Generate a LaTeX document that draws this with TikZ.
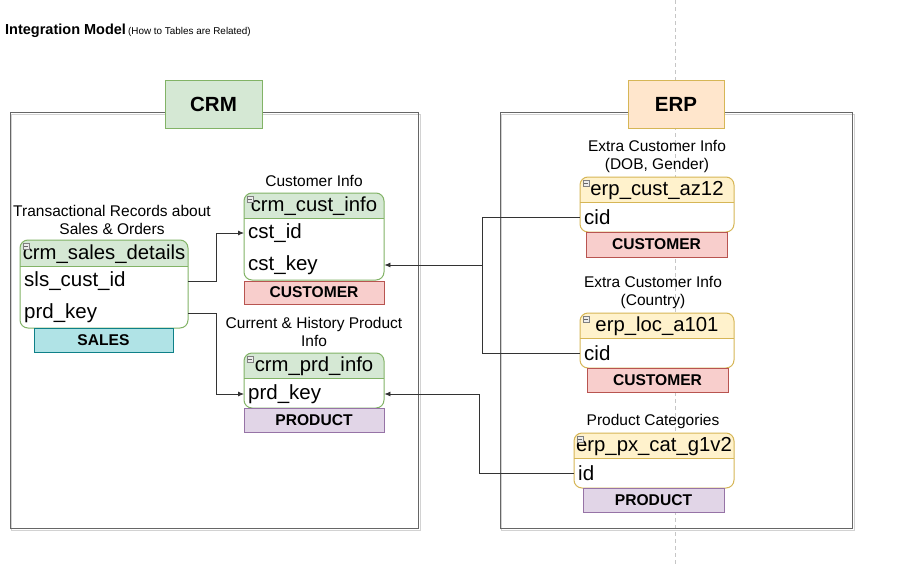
\documentclass[tikz,border=0pt]{standalone}
\usepackage{fontspec}
\setmainfont{Liberation Sans}
\usetikzlibrary{arrows.meta}
\definecolor{grnfill}{HTML}{D5E8D4}
\definecolor{grnline}{HTML}{82B366}
\definecolor{yelfill}{HTML}{FFF2CC}
\definecolor{yelline}{HTML}{D6B656}
\definecolor{orgfill}{HTML}{FFE6CC}
\definecolor{redfill}{HTML}{F8CECC}
\definecolor{redline}{HTML}{B85450}
\definecolor{purfill}{HTML}{E1D5E7}
\definecolor{purline}{HTML}{9673A6}
\definecolor{tealfill}{HTML}{B0E3E6}
\definecolor{tealline}{HTML}{0E8088}
\definecolor{edgecol}{HTML}{333333}
\definecolor{framecol}{HTML}{666666}
\tikzset{
  headtext/.style={inner sep=0pt, font=\fontsize{20.3}{22}\selectfont},
  rowtext/.style={inner xsep=4pt, inner ysep=0pt, align=left, anchor=west, font=\fontsize{20.5}{22}\selectfont},
  infolabel/.style={inner sep=0pt, align=center, font=\fontsize{15.5}{18}\selectfont},
  tagbox/.style={inner sep=0pt, font=\bfseries\fontsize{15.6}{18}\selectfont},
  tagred/.style={tagbox, fill=redfill, draw=redline},
  tagpur/.style={tagbox, fill=purfill, draw=purline},
  tagteal/.style={tagbox, fill=tealfill, draw=tealline},
  grouplabel/.style={inner sep=0pt, font=\bfseries\fontsize{20.5}{24}\selectfont, minimum height=48pt},
  frame/.style={draw=framecol, line width=1pt},
  conn/.style={draw=edgecol, line width=0.8pt, -{Latex[length=6pt,width=5pt]}},
  connplain/.style={draw=edgecol, line width=0.8pt},
  icon/.style={draw=gray, fill=gray!15, line width=0.5pt}
}
\newcommand\erdtab[9]{%
  \begin{scope}
    \clip[rounded corners=8pt] (#2,#3) rectangle (#4,#5);
    \fill[white] (#2,#3) rectangle (#4,#5);
    \fill[#7] (#2,#3) rectangle (#4,#6);
  \end{scope}
  \draw[#8, rounded corners=8pt, line width=1pt] (#2,#3) rectangle (#4,#5);
  \draw[#8, line width=1pt] (#2,#6) -- (#4,#6);
  \node[headtext] (#1) at ({(#2+#4)/2},{(#3+#6)/2+1}) {#9};
  \draw[icon] ({#2+3},{#3+3}) rectangle ++(6,6);
  \draw[gray!80!black, line width=0.5pt] ({#2+4.2},{#3+6}) -- ++(3.6,0);
}
\begin{document}
\begin{tikzpicture}[x=1pt,y=-1pt]
\useasboundingbox[fill=white] (0,0) rectangle (897,565);

% dashed guide line
\draw[gray!45, dashed, dash pattern=on 4pt off 3pt, line width=0.6pt] (675,0) -- (675,565);

% title
\node[anchor=base west, inner sep=0pt, font=\bfseries\fontsize{14.5}{17}\selectfont] (title) at (5,34) {Integration Model};
\node[anchor=base west, inner sep=0pt, font=\fontsize{9.9}{11}\selectfont] (subtitle) at (title.base east) {\,(How to Tables are Related)};

% group frames
\draw[gray!35, line width=1pt] (11,114) rectangle (420,530);
\draw[frame] (10,112) rectangle (418,528);
\draw[gray!35, line width=1pt] (501,114) rectangle (854,530);
\draw[frame] (500,112) rectangle (852,528);
\node[grouplabel, fill=grnfill, draw=grnline, minimum width=97pt] (crm) at (213.5,104) {CRM};
\node[grouplabel, fill=orgfill, draw=yelline, minimum width=96pt] (erp) at (676,104) {ERP};

% CRM tables
\node[infolabel] (lsales) at (112,220) {Transactional Records about\\Sales \& Orders};
\erdtab{salesh}{20}{240}{188}{328}{266}{grnfill}{grnline}{crm\_sales\_details}
\node[rowtext, minimum width=168pt, text width=160pt] (slsid) at (20,281) {sls\_cust\_id};
\node[rowtext, minimum width=168pt, text width=160pt] (prdk1) at (20,313) {prd\_key};
\node[tagteal, minimum width=139pt, minimum height=24pt] (tsales) at (103.5,340) {SALES};

\node[infolabel] (lcust) at (314,181) {Customer Info};
\erdtab{custh}{244}{193}{384}{280}{218}{grnfill}{grnline}{crm\_cust\_info}
\node[rowtext, minimum width=140pt, text width=132pt] (cstid) at (244,233) {cst\_id};
\node[rowtext, minimum width=140pt, text width=132pt] (cstkey) at (244,265) {cst\_key};
\node[tagred, minimum width=140pt, minimum height=23pt] (tcust) at (314,292.5) {CUSTOMER};

\node[infolabel] (lprd) at (314,332) {Current \& History Product\\Info};
\erdtab{prdh}{244}{353}{384}{408}{378}{grnfill}{grnline}{crm\_prd\_info}
\node[rowtext, minimum width=140pt, text width=132pt] (prdk2) at (244,394) {prd\_key};
\node[tagpur, minimum width=140pt, minimum height=24pt] (tprd) at (314,420) {PRODUCT};

% ERP tables
\node[infolabel] (laz) at (657,156) {Extra Customer Info\\(DOB, Gender)};
\erdtab{azh}{580}{177}{734}{232}{202}{yelfill}{yelline}{erp\_cust\_az12}
\node[rowtext, minimum width=154pt, text width=146pt] (azcid) at (580,217) {cid};
\node[tagred, minimum width=141pt, minimum height=25pt] (taz) at (656.5,244.5) {CUSTOMER};

\node[infolabel] (lloc) at (653,292) {Extra Customer Info\\(Country)};
\erdtab{loch}{580}{313}{734}{368}{338}{yelfill}{yelline}{erp\_loc\_a101}
\node[rowtext, minimum width=154pt, text width=146pt] (loccid) at (580,353) {cid};
\node[tagred, minimum width=141pt, minimum height=24pt] (tloc) at (657.5,380) {CUSTOMER};

\node[infolabel] (lpx) at (653,421) {Product Categories};
\erdtab{pxh}{574}{433}{734}{488}{458}{yelfill}{yelline}{erp\_px\_cat\_g1v2}
\node[rowtext, minimum width=160pt, text width=152pt] (pxid) at (574,473) {id};
\node[tagpur, minimum width=141pt, minimum height=24pt] (tpx) at (653.5,500) {PRODUCT};

% connectors
\coordinate (j1) at (216,233);
\coordinate (j2) at (216,394);
\coordinate (j3) at (482,265);
\coordinate (j4) at (479,394);
\draw[conn] (slsid.east) -| (j1) -- (cstid.west);
\draw[conn] (prdk1.east) -| (j2) -- (prdk2.west);
\draw[connplain] (azcid.west) -| (j3);
\draw[connplain] (loccid.west) -| (j3);
\draw[conn] (j3) -- (cstkey.east);
\draw[conn] (pxid.west) -| (j4) -- (prdk2.east);
\end{tikzpicture}
\end{document}
